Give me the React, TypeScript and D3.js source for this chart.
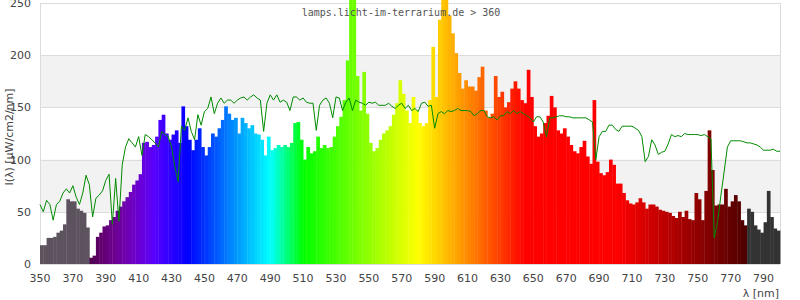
import React from "react";
import * as d3 from "d3";

// Wavelength grid (nm): bars start at 350, step 2
const BAR_START = 350;
const STEP = 2;

// Lamp spectrum intensity per 2 nm bin [µW/cm2/nm]
const lampValues: number[] = [
  18, 18, 25, 25, 26, 30, 32, 38, 62, 60, 60, 53, 51, 49, 35, // 350-378
  6, 8, 26, 30, 36, 37, 42, 45, 51, 55, // 380-398
  60, 64, 69, 76, 80, 86, 116, 117, 112, 114, // 400-418
  122, 138, 143, 125, 119, 124, 128, 116, 151, 132, // 420-438
  119, 109, 119, 130, 112, 104, 112, 125, 122, 130, // 440-458
  138, 151, 144, 138, 140, 125, 140, 135, 130, 133, // 460-478
  125, 124, 119, 104, 122, 109, 111, 114, 112, 114, // 480-498
  112, 116, 135, 136, 119, 100, 112, 106, 108, 122, // 500-518
  111, 114, 111, 112, 122, 132, 141, 157, 195, 270, // 520-538
  270, 180, 147, 184, 144, 116, 108, 111, 119, 125, // 540-558
  128, 132, 143, 154, 176, 163, 147, 135, 160, 147, // 560-578
  135, 132, 135, 157, 208, 160, 234, 262, 262, 238, // 580-598
  221, 202, 183, 168, 176, 170, 170, 166, 179, 189, // 600-618
  147, 140, 144, 180, 160, 165, 150, 155, 168, 175, // 620-638
  168, 157, 154, 186, 160, 132, 122, 125, 135, 142, // 640-658
  161, 150, 128, 125, 130, 122, 114, 108, 106, 112, // 660-678
  118, 103, 96, 157, 98, 87, 85, 88, 100, 95, // 680-698
  77, 77, 68, 61, 58, 57, 59, 63, 59, 53, // 700-718
  57, 57, 55, 52, 51, 50, 49, 46, 44, 50, // 720-738
  45, 51, 43, 42, 68, 62, 42, 70, 128, 90, // 740-758
  56, 57, 57, 72, 55, 60, 66, 60, 42, 37, // 760-778
  53, 50, 37, 33, 30, 40, 70, 45, 34, 32, // 780-798
];

// Reference (daylight) curve per 2 nm, 350-800
const refValues: number[] = [
  57, 50, 61, 57, 42, 57, 60, 68, 72, 68, 75, 64, 57, 68, 85, // 350-378
  76, 45, 63, 66, 70, 80, 86, 38, 82, 41, // 380-398
  95, 112, 120, 116, 112, 122, 104, 124, 122, 119, // 400-418
  116, 112, 127, 124, 122, 112, 93, 79, 132, 128, // 420-438
  140, 127, 119, 143, 133, 146, 149, 160, 144, 154, // 440-458
  159, 154, 157, 157, 154, 157, 159, 160, 157, 160, // 460-478
  162, 159, 157, 127, 154, 162, 157, 162, 155, 157, // 480-498
  155, 147, 160, 160, 157, 159, 155, 154, 154, 128, // 500-518
  152, 157, 159, 154, 140, 160, 159, 147, 155, 159, // 520-538
  147, 157, 155, 154, 152, 155, 154, 155, 152, 152, // 540-558
  152, 154, 151, 149, 152, 154, 149, 152, 147, 149, // 560-578
  146, 154, 155, 151, 152, 130, 144, 146, 144, 147, // 580-598
  146, 147, 149, 147, 147, 147, 146, 142, 144, 147, // 600-618
  147, 141, 140, 141, 138, 142, 142, 146, 144, 147, // 620-638
  144, 146, 144, 142, 140, 136, 141, 141, 136, 122, // 640-658
  140, 140, 141, 142, 142, 141, 141, 140, 140, 140, // 660-678
  140, 140, 138, 136, 100, 122, 127, 127, 133, 133, // 680-698
  129, 127, 132, 132, 132, 132, 130, 128, 122, 98, // 700-718
  103, 119, 114, 105, 107, 108, 115, 124, 122, 123, // 720-738
  122, 125, 124, 124, 124, 124, 123, 124, 122, 120, // 740-758
  25, 40, 65, 88, 112, 118, 118, 118, 118, 117, // 760-778
  116, 116, 115, 114, 112, 109, 109, 109, 110, 108, // 780-798
  108, // 800
];

const xTicks: number[] = d3.range(350, 800, 20);
const yTicks: number[] = [0, 50, 100, 150, 200, 250];
const shadedBands: [number, number][] = [
  [50, 100],
  [150, 200],
];

const TITLE = "lamps.licht-im-terrarium.de > 360";
const Y_LABEL = "I(λ) [µW/cm2/nm]";
const X_LABEL = "λ [nm]";

function waveColor(w: number): string {
  if (w < 380) return "#5d535f";
  if (w >= 780) return "#333333";
  let r = 0,
    g = 0,
    b = 0;
  if (w < 440) {
    r = (440 - w) / 60;
    b = 1;
  } else if (w < 490) {
    g = (w - 440) / 50;
    b = 1;
  } else if (w < 510) {
    g = 1;
    b = (510 - w) / 20;
  } else if (w < 580) {
    r = (w - 510) / 70;
    g = 1;
  } else if (w < 645) {
    r = 1;
    g = (645 - w) / 65;
  } else {
    r = 1;
  }
  let f = 1;
  if (w < 420) f = 0.3 + (0.7 * (w - 380)) / 40;
  else if (w > 700) f = 0.3 + (0.7 * (780 - w)) / 80;
  const c = (v: number) => Math.round(255 * v * f);
  return d3.rgb(c(r), c(g), c(b)).formatHex();
}

export default function App() {
  const W = 800;
  const H = 300;
  const x = d3.scaleLinear().domain([350, 800]).range([40, 780]);
  const y = d3.scaleLinear().domain([0, 250]).range([264, 3]);

  const bars = lampValues.map((v, i) => {
    const w = BAR_START + i * STEP;
    return { w, v };
  });
  const refPts = refValues.map((v, i) => [BAR_START + i * STEP, v] as [number, number]);
  const line = d3
    .line<[number, number]>()
    .x((d) => x(d[0]))
    .y((d) => y(d[1]));

  const sans = "'DejaVu Sans', Verdana, sans-serif";

  return (
    <svg
      width={W}
      height={H}
      style={{ position: "fixed", left: 0, top: 0, background: "#fff" }}
    >
      <rect x={0} y={0} width={W} height={H} fill="#fff" />
      {shadedBands.map(([a, b], i) => (
        <rect
          key={"band" + i}
          x={x(350)}
          y={y(b)}
          width={x(800) - x(350)}
          height={y(a) - y(b)}
          fill="#f2f2f2"
        />
      ))}
      {yTicks.map((t) => (
        <line
          key={"g" + t}
          x1={x(350)}
          x2={x(800)}
          y1={Math.round(y(t)) + 0.5}
          y2={Math.round(y(t)) + 0.5}
          stroke="#dcdcdc"
          strokeWidth={1}
        />
      ))}
      <line x1={x(350) + 0.5} x2={x(350) + 0.5} y1={y(250)} y2={y(0)} stroke="#dcdcdc" />
      <line x1={x(800) + 0.5} x2={x(800) + 0.5} y1={y(250)} y2={y(0)} stroke="#dcdcdc" />

      <g>
        {bars.map((d) => (
          <rect
            key={"b" + d.w}
            x={x(d.w)}
            y={y(d.v)}
            width={x(d.w + STEP) - x(d.w) + 0.4}
            height={y(0) - y(d.v)}
            fill={waveColor(d.w + 1)}
          />
        ))}
      </g>

      <path d={line(refPts) || ""} fill="none" stroke="#008a00" strokeWidth={1} />

      <text
        x={401}
        y={16}
        textAnchor="middle"
        fontFamily="'DejaVu Sans Mono', monospace"
        fontSize={10}
        fill="#555"
      >
        {TITLE}
      </text>

      {xTicks.map((t) => (
        <text
          key={"xt" + t}
          x={x(t)}
          y={282}
          textAnchor="middle"
          fontFamily={sans}
          fontSize={11}
          fill="#444"
        >
          {t}
        </text>
      ))}
      {yTicks.map((t) => (
        <text
          key={"yt" + t}
          x={31}
          y={y(t) + 4}
          textAnchor="end"
          fontFamily={sans}
          fontSize={11}
          fill="#444"
        >
          {t}
        </text>
      ))}
      <text
        transform={`translate(13,137) rotate(-90)`}
        textAnchor="middle"
        fontFamily={sans}
        fontSize={11}
        fill="#444"
      >
        {Y_LABEL}
      </text>
      <text
        x={779}
        y={297}
        textAnchor="end"
        fontFamily={sans}
        fontSize={11}
        fill="#444"
      >
        {X_LABEL}
      </text>
    </svg>
  );
}
